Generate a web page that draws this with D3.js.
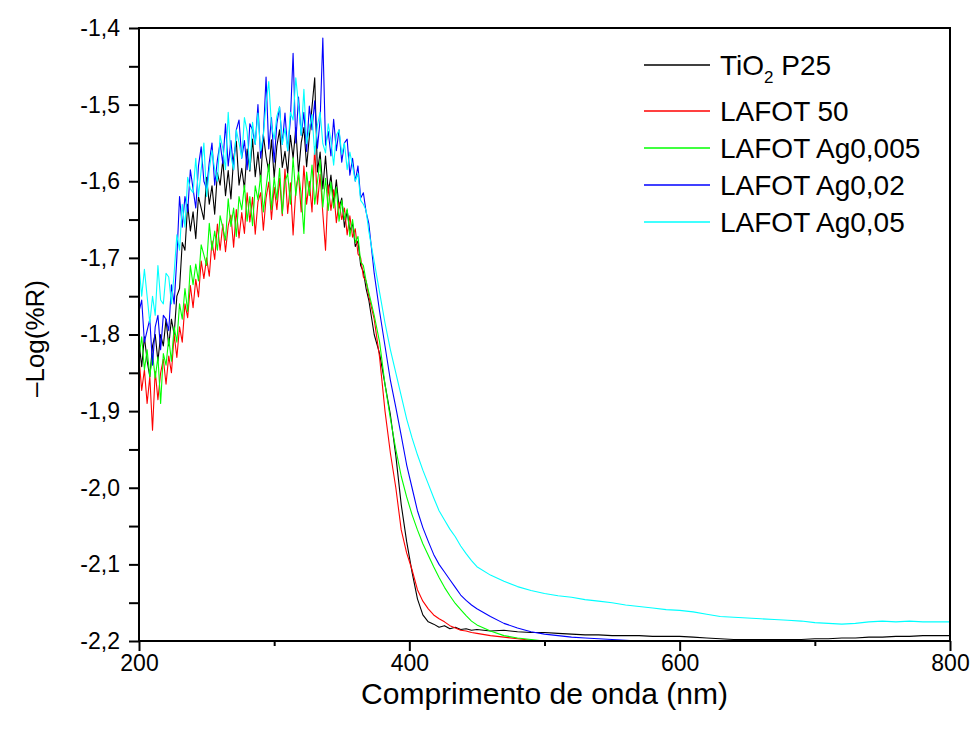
<!DOCTYPE html>
<html lang="pt">
<head>
<meta charset="UTF-8">
<title>-Log(%R)</title>
<style>
  body { margin: 0; background: #fff; }
  svg { font-family: "Liberation Sans", Arial, sans-serif; }
</style>
</head>
<body>
<div id="chart"></div>
<script src="https://cdn.jsdelivr.net/npm/d3@7"></script>
<script>
// wavelength grid (nm)
var wavelength = [
  200,202,204,206,208,210,212,214,216,218,220,222,224,226,228,230,232,234,236,238,
  240,242,244,246,248,250,252,254,256,258,260,262,264,266,268,270,272,274,276,278,
  280,282,284,286,288,290,292,294,296,298,300,302,304,306,308,310,312,314,316,318,
  320,322,324,326,328,330,332,334,336,338,340,342,344,346,348,350,352,354,356,358,
  360,362,364,366,368,370,
  374,378,382,386,390,394,398,402,406,410,414,418,422,426,430,434,438,442,446,450,
  460,470,480,490,500,510,520,530,540,550,560,570,580,590,600,610,620,630,640,650,
  660,670,680,690,700,710,720,730,740,750,760,770,780,790,800
];

var tio2 = [
  -1.81,-1.842,-1.803,-1.834,-1.855,-1.815,-1.80,-1.835,-1.80,-1.815,-1.78,-1.815,-1.78,-1.80,-1.75,-1.74,-1.68,-1.69,-1.63,-1.665,
  -1.64,-1.675,-1.62,-1.635,-1.65,-1.595,-1.63,-1.606,-1.643,-1.589,-1.605,-1.572,-1.619,-1.586,-1.623,-1.57,-1.548,-1.605,-1.583,-1.61,
  -1.558,-1.587,-1.545,-1.594,-1.562,-1.60,-1.539,-1.568,-1.587,-1.546,-1.595,-1.554,-1.533,-1.582,-1.561,-1.59,-1.54,-1.57,-1.53,-1.59,
  -1.55,-1.53,-1.581,-1.542,-1.503,-1.465,-1.588,-1.562,-1.61,-1.567,-1.615,-1.592,-1.63,-1.598,-1.635,-1.622,-1.66,-1.638,-1.665,-1.655,
  -1.685,-1.678,-1.71,-1.718,-1.74,-1.755,
  -1.80,-1.825,-1.865,-1.905,-1.958,-2.022,-2.07,-2.11,-2.145,-2.166,-2.175,-2.178,-2.182,-2.18,-2.184,-2.182,-2.185,-2.184,-2.186,-2.185,
  -2.187,-2.186,-2.188,-2.189,-2.189,-2.19,-2.191,-2.192,-2.192,-2.193,-2.193,-2.193,-2.194,-2.194,-2.194,-2.195,-2.196,-2.197,-2.198,-2.198,
  -2.198,-2.198,-2.198,-2.198,-2.197,-2.197,-2.196,-2.196,-2.195,-2.195,-2.194,-2.194,-2.193,-2.193,-2.193
];

var lafot50 = [
  -1.83,-1.873,-1.846,-1.89,-1.855,-1.925,-1.848,-1.885,-1.85,-1.832,-1.865,-1.828,-1.85,-1.80,-1.83,-1.79,-1.81,-1.76,-1.778,-1.736,
  -1.765,-1.728,-1.751,-1.704,-1.727,-1.70,-1.724,-1.678,-1.702,-1.656,-1.69,-1.656,-1.692,-1.658,-1.644,-1.686,-1.637,-1.674,-1.641,-1.668,
  -1.615,-1.653,-1.621,-1.669,-1.627,-1.615,-1.664,-1.622,-1.601,-1.65,-1.608,-1.637,-1.596,-1.645,-1.584,-1.642,-1.602,-1.67,-1.611,-1.591,
  -1.64,-1.58,-1.63,-1.60,-1.64,-1.555,-1.63,-1.591,-1.642,-1.69,-1.605,-1.638,-1.611,-1.654,-1.627,-1.65,-1.635,-1.67,-1.645,-1.673,
  -1.662,-1.695,-1.70,-1.725,-1.73,-1.75,
  -1.78,-1.83,-1.90,-1.955,-2.00,-2.055,-2.085,-2.107,-2.133,-2.148,-2.158,-2.166,-2.171,-2.175,-2.18,-2.183,-2.186,-2.187,-2.189,-2.19,
  -2.193,-2.195,-2.197,-2.199,-2.201,-2.203,-2.205,-2.206,-2.207,-2.208,-2.209,-2.21,-2.21,-2.21,-2.21,-2.21,-2.21,-2.21,-2.21,-2.21,
  -2.21,-2.21,-2.21,-2.21,-2.21,-2.21,-2.21,-2.21,-2.21,-2.21,-2.21,-2.21,-2.21,-2.21,-2.21
];

var lafotAg005 = [
  -1.83,-1.803,-1.846,-1.82,-1.855,-1.825,-1.857,-1.829,-1.89,-1.825,-1.84,-1.805,-1.835,-1.79,-1.81,-1.76,-1.78,-1.74,-1.77,-1.71,
  -1.735,-1.708,-1.73,-1.683,-1.696,-1.71,-1.655,-1.69,-1.665,-1.69,-1.645,-1.661,-1.677,-1.623,-1.659,-1.635,-1.672,-1.62,-1.637,-1.605,
  -1.652,-1.62,-1.658,-1.606,-1.624,-1.592,-1.64,-1.609,-1.578,-1.637,-1.595,-1.624,-1.583,-1.642,-1.601,-1.59,-1.63,-1.569,-1.619,-1.588,
  -1.618,-1.668,-1.588,-1.619,-1.579,-1.63,-1.601,-1.572,-1.634,-1.596,-1.638,-1.601,-1.635,-1.608,-1.652,-1.625,-1.65,-1.636,-1.672,-1.65,
  -1.68,-1.672,-1.705,-1.71,-1.73,-1.745,
  -1.775,-1.81,-1.865,-1.91,-1.95,-1.985,-2.012,-2.035,-2.055,-2.073,-2.088,-2.103,-2.117,-2.13,-2.141,-2.151,-2.159,-2.167,-2.174,-2.179,
  -2.187,-2.193,-2.196,-2.198,-2.20,-2.202,-2.204,-2.206,-2.207,-2.208,-2.209,-2.21,-2.21,-2.21,-2.21,-2.21,-2.21,-2.21,-2.21,-2.21,
  -2.21,-2.21,-2.21,-2.21,-2.21,-2.21,-2.21,-2.21,-2.21,-2.21,-2.21,-2.21,-2.21,-2.21,-2.21
];

var lafotAg02 = [
  -1.77,-1.755,-1.81,-1.795,-1.78,-1.84,-1.79,-1.775,-1.82,-1.775,-1.78,-1.795,-1.735,-1.76,-1.70,-1.62,-1.66,-1.62,-1.64,-1.585,
  -1.61,-1.635,-1.58,-1.555,-1.60,-1.61,-1.575,-1.55,-1.605,-1.572,-1.55,-1.577,-1.525,-1.58,-1.547,-1.585,-1.533,-1.52,-1.57,-1.547,
  -1.585,-1.525,-1.533,-1.552,-1.50,-1.57,-1.54,-1.464,-1.558,-1.517,-1.575,-1.525,-1.503,-1.552,-1.511,-1.56,-1.52,-1.433,-1.55,-1.49,
  -1.54,-1.51,-1.561,-1.502,-1.533,-1.495,-1.557,-1.52,-1.413,-1.553,-1.535,-1.567,-1.519,-1.56,-1.533,-1.575,-1.55,-1.545,-1.592,-1.57,
  -1.60,-1.58,-1.622,-1.615,-1.64,-1.655,
  -1.72,-1.77,-1.815,-1.86,-1.895,-1.932,-1.97,-2.00,-2.03,-2.052,-2.07,-2.087,-2.10,-2.11,-2.12,-2.13,-2.14,-2.147,-2.153,-2.158,
  -2.168,-2.177,-2.183,-2.188,-2.191,-2.193,-2.195,-2.196,-2.197,-2.198,-2.199,-2.20,-2.201,-2.202,-2.203,-2.204,-2.205,-2.206,-2.207,-2.208,
  -2.209,-2.21,-2.21,-2.21,-2.21,-2.21,-2.21,-2.21,-2.21,-2.21,-2.21,-2.21,-2.21,-2.21,-2.21
];

var lafotAg05 = [
  -1.71,-1.75,-1.715,-1.75,-1.785,-1.75,-1.775,-1.71,-1.755,-1.76,-1.72,-1.725,-1.76,-1.72,-1.67,-1.69,-1.63,-1.66,-1.595,-1.61,
  -1.615,-1.57,-1.62,-1.585,-1.55,-1.62,-1.585,-1.56,-1.585,-1.60,-1.54,-1.557,-1.585,-1.51,-1.567,-1.585,-1.533,-1.55,-1.57,-1.517,
  -1.535,-1.585,-1.523,-1.552,-1.511,-1.56,-1.54,-1.498,-1.47,-1.527,-1.545,-1.515,-1.503,-1.552,-1.531,-1.56,-1.51,-1.52,-1.465,-1.50,
  -1.54,-1.48,-1.551,-1.532,-1.513,-1.565,-1.527,-1.51,-1.551,-1.563,-1.525,-1.547,-1.579,-1.54,-1.533,-1.565,-1.55,-1.585,-1.562,-1.58,
  -1.60,-1.59,-1.625,-1.63,-1.638,-1.665,
  -1.705,-1.745,-1.785,-1.82,-1.85,-1.88,-1.91,-1.935,-1.957,-1.977,-1.995,-2.013,-2.03,-2.042,-2.054,-2.064,-2.076,-2.086,-2.095,-2.103,
  -2.114,-2.122,-2.129,-2.134,-2.138,-2.141,-2.143,-2.146,-2.148,-2.15,-2.153,-2.155,-2.157,-2.159,-2.16,-2.162,-2.165,-2.168,-2.169,-2.17,
  -2.171,-2.172,-2.173,-2.174,-2.176,-2.177,-2.178,-2.177,-2.175,-2.174,-2.175,-2.174,-2.175,-2.175,-2.175
];

var seriesNames = ["TiO2 P25", "LAFOT 50", "LAFOT Ag0,005", "LAFOT Ag0,02", "LAFOT Ag0,05"];
var seriesValues = [tio2, lafot50, lafotAg005, lafotAg02, lafotAg05];
var seriesColors = ["#000000", "#ff0000", "#00ff00", "#0000ff", "#00ffff"];

var xTicks = [200, 400, 600, 800];
var xMinorTicks = [300, 500, 700];
var yTicks = [-2.2, -2.1, -2.0, -1.9, -1.8, -1.7, -1.6, -1.5, -1.4];
var yMinorTicks = [-2.15, -2.05, -1.95, -1.85, -1.75, -1.65, -1.55, -1.45];

var W = 974, H = 734;
var margin = { left: 139, right: 24, top: 28, bottom: 93 };
var plotW = W - margin.left - margin.right;
var plotH = H - margin.top - margin.bottom;

var locale = d3.formatLocale({ decimal: ",", thousands: ".", grouping: [3], currency: ["", ""], minus: "-" });
var fmtY = locale.format(".1f");

var svg = d3.select("#chart").append("svg")
  .attr("width", W)
  .attr("height", H);

var g = svg.append("g").attr("transform", "translate(" + margin.left + "," + margin.top + ")");

var x = d3.scaleLinear().domain([200, 800]).range([0, plotW]);
var y = d3.scaleLinear().domain([-2.2, -1.4]).range([plotH, 0]);

g.append("clipPath").attr("id", "clip")
  .append("rect").attr("width", plotW).attr("height", plotH);

var line = d3.line()
  .x(function (d, i) { return x(wavelength[i]); })
  .y(function (d) { return y(d); });

g.append("g").attr("clip-path", "url(#clip)")
  .selectAll("path")
  .data(seriesValues)
  .join("path")
  .attr("d", line)
  .attr("fill", "none")
  .attr("stroke", function (d, i) { return seriesColors[i]; })
  .attr("stroke-width", 1.1)
  .attr("stroke-linejoin", "round");

// axes
g.append("g").attr("transform", "translate(0," + plotH + ")")
  .call(d3.axisBottom(x).tickValues(xTicks).tickSize(10).tickPadding(4).tickFormat(d3.format("d")));
g.append("g").attr("transform", "translate(0," + plotH + ")")
  .call(d3.axisBottom(x).tickValues(xMinorTicks).tickSize(5).tickFormat(""));

g.append("g")
  .call(d3.axisLeft(y).tickValues(yTicks).tickSize(10).tickPadding(9).tickFormat(fmtY));
g.append("g")
  .call(d3.axisLeft(y).tickValues(yMinorTicks).tickSize(10).tickFormat(""));

g.selectAll(".domain").remove();
g.selectAll(".tick line").attr("stroke", "#000").attr("stroke-width", 2);
g.selectAll(".tick text").attr("fill", "#000").style("font-size", "23px")
  .style("font-family", "'Liberation Sans', Arial, sans-serif");

// frame
g.append("rect")
  .attr("width", plotW).attr("height", plotH)
  .attr("fill", "none").attr("stroke", "#000").attr("stroke-width", 2);

// axis titles
svg.append("text")
  .attr("x", margin.left + plotW / 2)
  .attr("y", 704)
  .attr("text-anchor", "middle")
  .style("font-size", "30px")
  .text("Comprimento de onda (nm)");

svg.append("text")
  .attr("transform", "translate(44," + (margin.top + plotH / 2 + 4) + ") rotate(-90)")
  .attr("text-anchor", "middle")
  .style("font-size", "26px")
  .text("\u2013Log(%R)");

// legend
var legendY = [65, 111, 148, 185, 222];
var legend = svg.append("g").attr("transform", "translate(644,0)");
seriesNames.forEach(function (name, i) {
  legend.append("line")
    .attr("x1", 0).attr("x2", 66)
    .attr("y1", legendY[i]).attr("y2", legendY[i])
    .attr("stroke", seriesColors[i]).attr("stroke-width", 1.3);
  var t = legend.append("text")
    .attr("x", 76).attr("y", legendY[i] + 10)
    .style("font-size", "28px");
  if (i === 0) {
    t.append("tspan").text("TiO");
    t.append("tspan").attr("dy", 8).style("font-size", "17px").text("2");
    t.append("tspan").attr("dy", -8).text(" P25");
  } else {
    t.text(name);
  }
});
</script>
</body>
</html>
